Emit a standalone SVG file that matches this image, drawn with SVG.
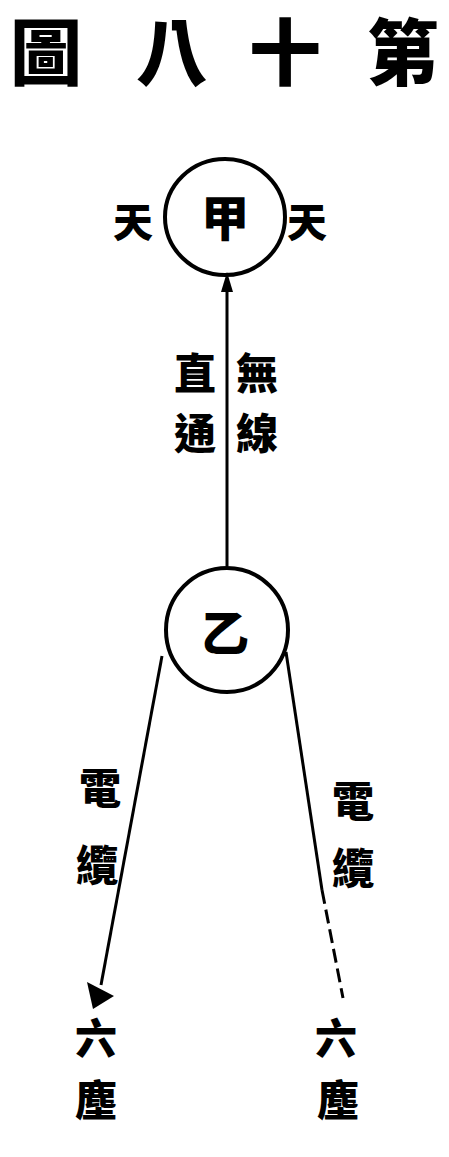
<svg xmlns="http://www.w3.org/2000/svg" width="449" height="1157" viewBox="0 0 449 1157">
<style>
text{font-family:"Noto Sans CJK TC","Noto Sans CJK SC",sans-serif;font-weight:900;fill:#000;text-anchor:middle;dominant-baseline:central}
.t{font-size:72px}
.n{font-size:48px}
.s{font-size:40px}
.l{font-size:42px}
.c{fill:none;stroke:#000;stroke-width:4}
.e{fill:none;stroke:#000;stroke-width:3}
</style>
<rect width="449" height="1157" fill="#fff"/>
<g id="title">
<text class="t" x="46" y="47">圖</text>
<text class="t" x="172" y="47">八</text>
<text class="t" x="285" y="47">十</text>
<text class="t" x="403" y="47">第</text>
</g>
<g id="connectors">
<line class="e" x1="227" y1="285" x2="227" y2="566"/>
<polygon points="227,272 221,292 233,292" fill="#000"/>
<line class="e" x1="162" y1="656" x2="101" y2="985"/>
<polygon points="87,982 114,996 93,1009" fill="#000"/>
<line class="e" x1="286" y1="652" x2="322" y2="890"/>
<line class="e" x1="322" y1="890" x2="343" y2="998" stroke-dasharray="14,6"/>
<text class="l" x="195" y="370">直</text>
<text class="l" x="195" y="430">通</text>
<text class="l" x="257" y="370">無</text>
<text class="l" x="257" y="430">線</text>
<text class="l" x="100" y="785">電</text>
<text class="l" x="97" y="862">纜</text>
<text class="l" x="353" y="798">電</text>
<text class="l" x="353" y="865">纜</text>
</g>
<g id="node-jia">
<ellipse class="c" cx="225" cy="217" rx="60" ry="58"/>
<text class="n" x="225" y="215">甲</text>
<text class="s" x="133" y="220">天</text>
<text class="s" x="307" y="220">天</text>
</g>
<g id="node-yi">
<ellipse class="c" cx="227" cy="630" rx="61" ry="62"/>
<text class="n" x="225" y="630">乙</text>
</g>
<g id="node-left">
<text class="l" x="96" y="1035">六</text>
<text class="l" x="96" y="1097">塵</text>
</g>
<g id="node-right">
<text class="l" x="336" y="1035">六</text>
<text class="l" x="338" y="1097">塵</text>
</g>
</svg>
